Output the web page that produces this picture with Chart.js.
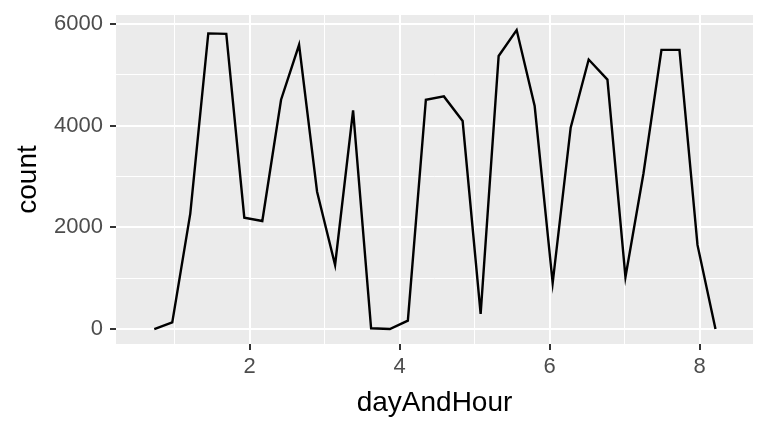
<!DOCTYPE html>
<html>
<head>
<meta charset="utf-8">
<script src="https://cdn.jsdelivr.net/npm/chart.js@4"></script>
<style>
  html, body { margin: 0; padding: 0; background: #fff; }
  #wrap { width: 768px; height: 432px; }
</style>
</head>
<body>
<div id="wrap"><canvas id="countChart"></canvas></div>
<script>
// values
const dayAndHour = [0.73, 0.97, 1.21, 1.45, 1.69, 1.93, 2.17, 2.42, 2.66, 2.90,
                    3.14, 3.38, 3.62, 3.87, 4.11, 4.35, 4.59, 4.84, 5.08, 5.32,
                    5.56, 5.80, 6.04, 6.28, 6.52, 6.77, 7.01, 7.25, 7.49, 7.73,
                    7.97, 8.21];
const counts = [0, 130, 2270, 5815, 5805, 2190, 2125, 4510, 5590, 2700,
                1260, 4300, 15, 0, 165, 4510, 4575, 4090, 300, 5370,
                5880, 4385, 905, 3960, 5300, 4905, 1020, 3060, 5490, 5490,
                1655, 0];

const xMajor = [2, 4, 6, 8];
const xMinor = [1, 3, 5, 7];
const yMajor = [0, 2000, 4000, 6000];
const yMinor = [1000, 3000, 5000];

const panelBg = {
    id: 'panelBg',
    beforeDraw(chart) {
        const { ctx, chartArea: a } = chart;
        ctx.save();
        ctx.fillStyle = '#EBEBEB';
        ctx.fillRect(a.left, a.top, a.right - a.left, a.bottom - a.top);
        ctx.restore();
    }
};

function setTicks(major, minor) {
    return scale => {
        scale.ticks = major.concat(minor).sort((a, b) => a - b).map(v => ({ value: v }));
    };
}
const isMajor = (list, v) => list.includes(v);

const ctx = document.getElementById('countChart').getContext('2d');
const countChart = new Chart(ctx, {
    type: 'line',
    data: {
        datasets: [{
            data: dayAndHour.map((x, i) => ({ x: x, y: counts[i] })),
            borderColor: '#000',
            borderWidth: 2.4,
            pointRadius: 0,
            tension: 0,
            fill: false
        }]
    },
    plugins: [panelBg],
    options: {
        responsive: true,
        maintainAspectRatio: false,
        animation: false,
        layout: { padding: { left: 0, right: 15, top: 15, bottom: 0 } },
        plugins: { legend: { display: false }, tooltip: { enabled: false } },
        scales: {
            x: {
                type: 'linear',
                min: 0.22,
                max: 8.71,
                afterBuildTicks: setTicks(xMajor, xMinor),
                afterFit: s => { s.height = 88; s.paddingLeft = 0; s.paddingRight = 0; },
                border: { display: false },
                grid: {
                    color: '#fff',
                    lineWidth: c => isMajor(xMajor, c.tick.value) ? 2 : 1,
                    tickColor: c => isMajor(xMajor, c.tick.value) ? '#333' : 'rgba(0,0,0,0)',
                    tickWidth: 2,
                    tickLength: 6
                },
                ticks: {
                    autoSkip: false,
                    maxRotation: 0,
                    padding: 4,
                    color: '#4D4D4D',
                    font: { family: 'Liberation Sans', size: 22 },
                    callback: v => isMajor(xMajor, v) ? String(v) : ''
                },
                title: {
                    display: true,
                    text: 'dayAndHour',
                    color: '#000',
                    font: { family: 'Liberation Sans', size: 28 },
                    padding: { top: 0, bottom: 12 }
                }
            },
            y: {
                min: -294,
                max: 6176,
                afterBuildTicks: setTicks(yMajor, yMinor),
                afterFit: s => { s.width = 116; s.paddingTop = 0; s.paddingBottom = 0; },
                border: { display: false },
                grid: {
                    color: '#fff',
                    lineWidth: c => isMajor(yMajor, c.tick.value) ? 2 : 1,
                    tickColor: c => isMajor(yMajor, c.tick.value) ? '#333' : 'rgba(0,0,0,0)',
                    tickWidth: 2,
                    tickLength: 6
                },
                ticks: {
                    autoSkip: false,
                    padding: 7,
                    color: '#4D4D4D',
                    font: { family: 'Liberation Sans', size: 22 },
                    callback: v => isMajor(yMajor, v) ? String(v) : ''
                },
                title: {
                    display: true,
                    text: 'count',
                    color: '#000',
                    font: { family: 'Liberation Sans', size: 28 },
                    padding: { top: 11, bottom: 0 }
                }
            }
        }
    }
});
</script>
</body>
</html>
